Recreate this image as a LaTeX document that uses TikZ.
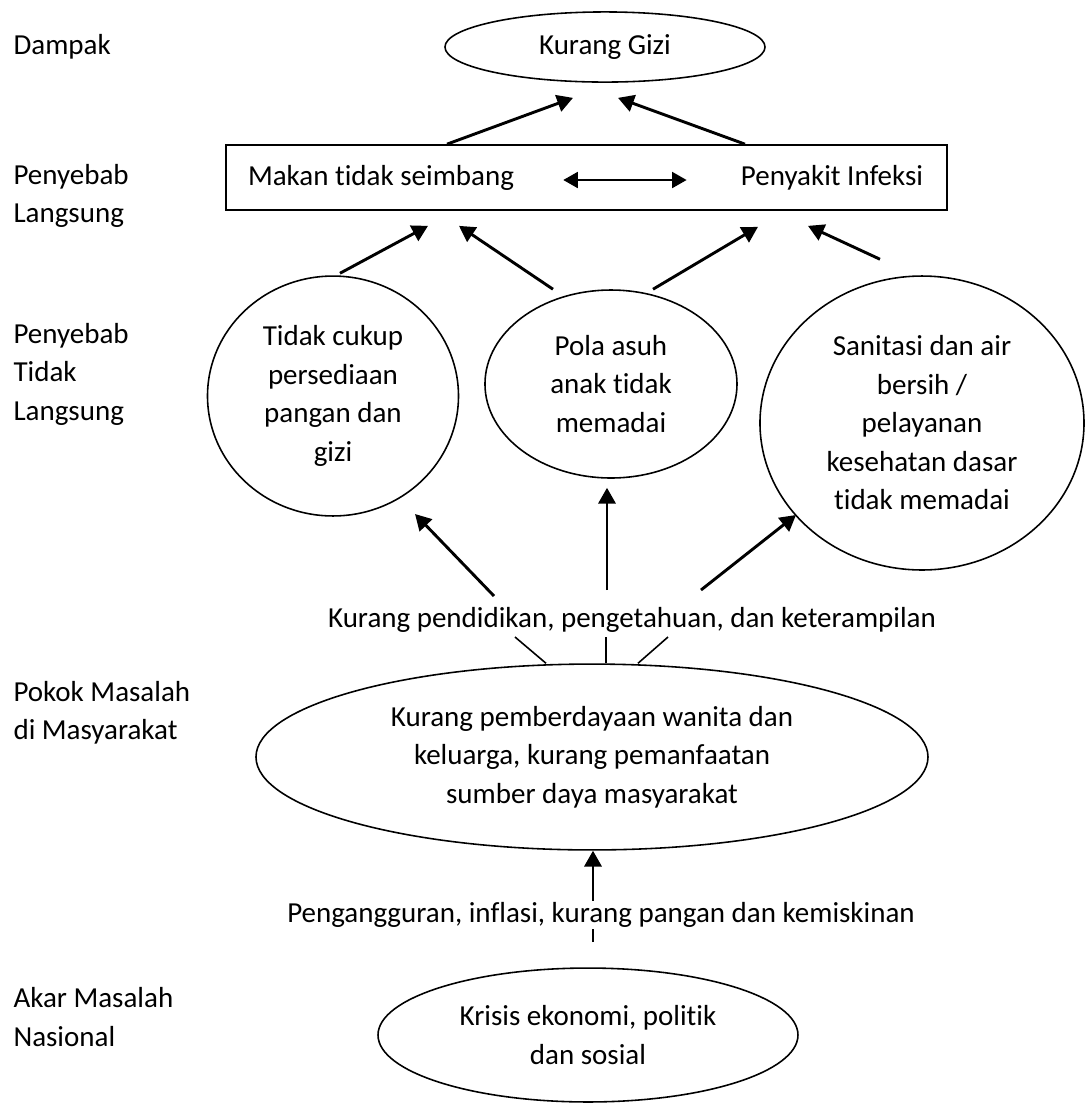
\documentclass[tikz,border=0pt]{standalone}
\usepackage{fontspec}
\setmainfont[Ligatures=NoCommon]{Carlito}
\usetikzlibrary{arrows.meta,backgrounds,calc,shapes}

\begin{document}
\begin{tikzpicture}[x=0.3793pt, y=-0.3793pt,
                    font=\fontsize{11}{14.6}\selectfont]
    \tikzstyle{oval}=[ellipse,
                      draw,
                      line width=0.6pt,
                      inner sep=0pt,
                      align=center]
    \tikzstyle{box}=[rectangle,
                     draw,
                     line width=0.6pt,
                     minimum width=273.5pt,
                     minimum height=24.7pt]
    \tikzstyle{side}=[anchor=west, align=left, inner sep=0pt]
    \tikzstyle{arr}=[-{Triangle[length=6pt,width=6.5pt]}, line width=1.1pt]
    \tikzstyle{thin}=[line width=0.6pt]

    \useasboundingbox (0,0) rectangle (1087,1104);

    % level names on the left
    \node[side] (dampak) at (13,47) {Dampak};
    \node[side] (langsung) at (13,196) {Penyebab\\Langsung};
    \node[side] (tdklangsung) at (13,374) {Penyebab\\Tidak\\Langsung};
    \node[side] (pokok) at (13,713) {Pokok Masalah\\di Masyarakat};
    \node[side] (akar) at (13,1017) {Akar Masalah\\Nasional};

    % nodes
    \node[oval, minimum width=121.4pt, minimum height=26.6pt] (gizi) at (605,47) {Kurang Gizi};
    \node[box] (sebab) at (586.5,177.5) {};
    \node (makan) at (381,178) {Makan tidak seimbang};
    \node (infeksi) at (832,178) {Penyakit Infeksi};
    \node[oval, minimum width=95.2pt, minimum height=91pt] (pangan) at (333,396)
        {Tidak cukup\\persediaan\\pangan dan\\gizi};
    \node[oval, minimum width=95.6pt, minimum height=71.3pt] (polaasuh) at (611,384)
        {Pola asuh\\anak tidak\\memadai};
    \node[oval, minimum width=122.9pt, minimum height=111.5pt] (sanitasi) at (922,423)
        {Sanitasi dan air\\bersih /\\pelayanan\\kesehatan dasar\\tidak memadai};
    \node (didik) at (632,620) {Kurang pendidikan, pengetahuan, dan keterampilan};
    \node[oval, minimum width=254.9pt, minimum height=70.5pt] (berdaya) at (592,757)
        {Kurang pemberdayaan wanita dan\\keluarga, kurang pemanfaatan\\sumber daya masyarakat};
    \node[fill=white, inner xsep=2pt, inner ysep=0.5pt] (nganggur) at (601,915)
        {Pengangguran, inflasi, kurang pangan dan kemiskinan};
    \node[oval, minimum width=159.3pt, minimum height=50.8pt] (krisis) at (588,1035)
        {Krisis ekonomi, politik\\dan sosial};

    % connectors
    \draw[arr] ($(sebab.north)+(-139.5,0)$) -- ($(gizi.south)+(-32,15)$);
    \draw[arr] ($(sebab.north)+(158.5,0)$) -- ($(gizi.south)+(13,15)$);
    \draw[{Triangle[length=5.5pt,width=6pt]}-{Triangle[length=5.5pt,width=6pt]}, line width=0.9pt]
        ($(makan.east)+(40,2)$) -- ($(infeksi.west)+(-45,2)$);

    \draw[arr] ($(pangan.north)+(7,-2)$) -- ($(sebab.south)+(-158.5,15)$);
    \draw[arr] ($(polaasuh.north)+(-58,0)$) -- ($(sebab.south)+(-127.5,15)$);
    \draw[arr] ($(polaasuh.north)+(42,0)$) -- ($(sebab.south)+(171.5,16)$);
    \draw[arr] ($(sanitasi.north)+(-42,-16)$) -- ($(sebab.south)+(221.5,15)$);

    \draw[arr] ($(didik)+(-138,-24)$) -- ($(pangan)+(82,118)$);
    \draw[arr] ($(didik)+(-25,-30)$) -- ($(polaasuh.south)+(-4,9)$);
    \draw[arr] ($(didik)+(69,-30)$) -- ($(sanitasi)+(-126,92)$);

    \draw[thin] ($(berdaya.north)+(-46,0)$) -- ($(didik)+(-117,17)$);
    \draw[thin] ($(berdaya.north)+(14,0)$) -- ($(didik)+(-26,17)$);
    \draw[thin] ($(berdaya.north)+(46,0)$) -- ($(didik)+(36,17)$);

    \begin{pgfonlayer}{background}
        \draw[arr] ($(nganggur)+(-8,27)$) -- ($(berdaya.south)+(1,0)$);
    \end{pgfonlayer}
\end{tikzpicture}
\end{document}
